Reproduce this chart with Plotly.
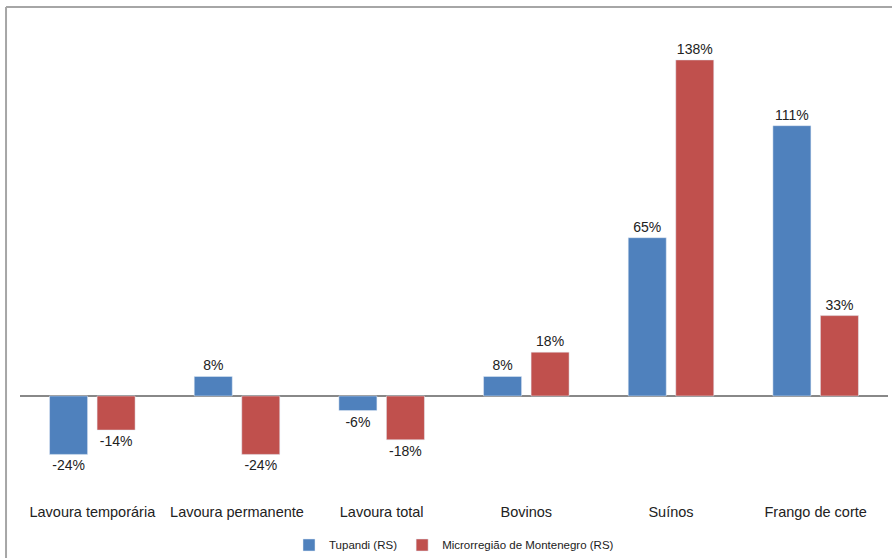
import plotly.graph_objects as go

categories = ["Lavoura temporária", "Lavoura permanente", "Lavoura total", "Bovinos", "Suínos", "Frango de corte"]
tupandi = [-24, 8, -6, 8, 65, 111]
micro = [-14, -24, -18, 18, 138, 33]
series_names = ["Tupandi (RS)", "Microrregião de Montenegro (RS)"]

font_family = "Liberation Sans, Arial, sans-serif"

fig = go.Figure()
fig.add_trace(go.Bar(
    x=categories, y=tupandi, name=series_names[0],
    marker=dict(color="#4F81BD"),
    text=[f"{v}%" for v in tupandi], textposition="outside",
    textfont=dict(size=14, color="#222"), cliponaxis=False,
))
fig.add_trace(go.Bar(
    x=categories, y=micro, name=series_names[1],
    marker=dict(color="#C0504D"),
    text=[f"{v}%" for v in micro], textposition="outside",
    textfont=dict(size=14, color="#222"), cliponaxis=False,
))

fig.update_layout(
    width=892, height=600,
    margin=dict(l=20, r=4, t=20, b=102, autoexpand=False),
    paper_bgcolor="white", plot_bgcolor="white",
    barmode="group", bargap=0.343, bargroupgap=0.2,
    font=dict(family=font_family, size=14, color="#222"),
    showlegend=True,
    legend=dict(orientation="h", x=0.5, xanchor="center", y=-0.0983, yanchor="middle",
                font=dict(size=11.5, color="#222"), itemwidth=30, traceorder="normal"),
    xaxis=dict(showline=False, showgrid=False, ticks="", tickfont=dict(size=14.5, color="#222"),
               ticklabelstandoff=3, fixedrange=True),
    yaxis=dict(range=[-41.9, 154.4], showgrid=False, showticklabels=False, ticks="",
               zeroline=True, zerolinecolor="#888888", zerolinewidth=2, showline=False,
               fixedrange=True),
    shapes=[
        dict(type="line", xref="paper", yref="paper", x0=-0.0161, x1=1.01, y0=1.0272, y1=1.0272,
             line=dict(color="#a6a6a6", width=2)),
        dict(type="line", xref="paper", yref="paper", x0=-0.0161, x1=-0.0161, y0=1.0272, y1=-0.3,
             line=dict(color="#a6a6a6", width=2)),
    ],
)

fig.write_html("out.html", config={"displayModeBar": False},
               post_script="document.body.style.margin='0';document.body.style.overflow='hidden';")
